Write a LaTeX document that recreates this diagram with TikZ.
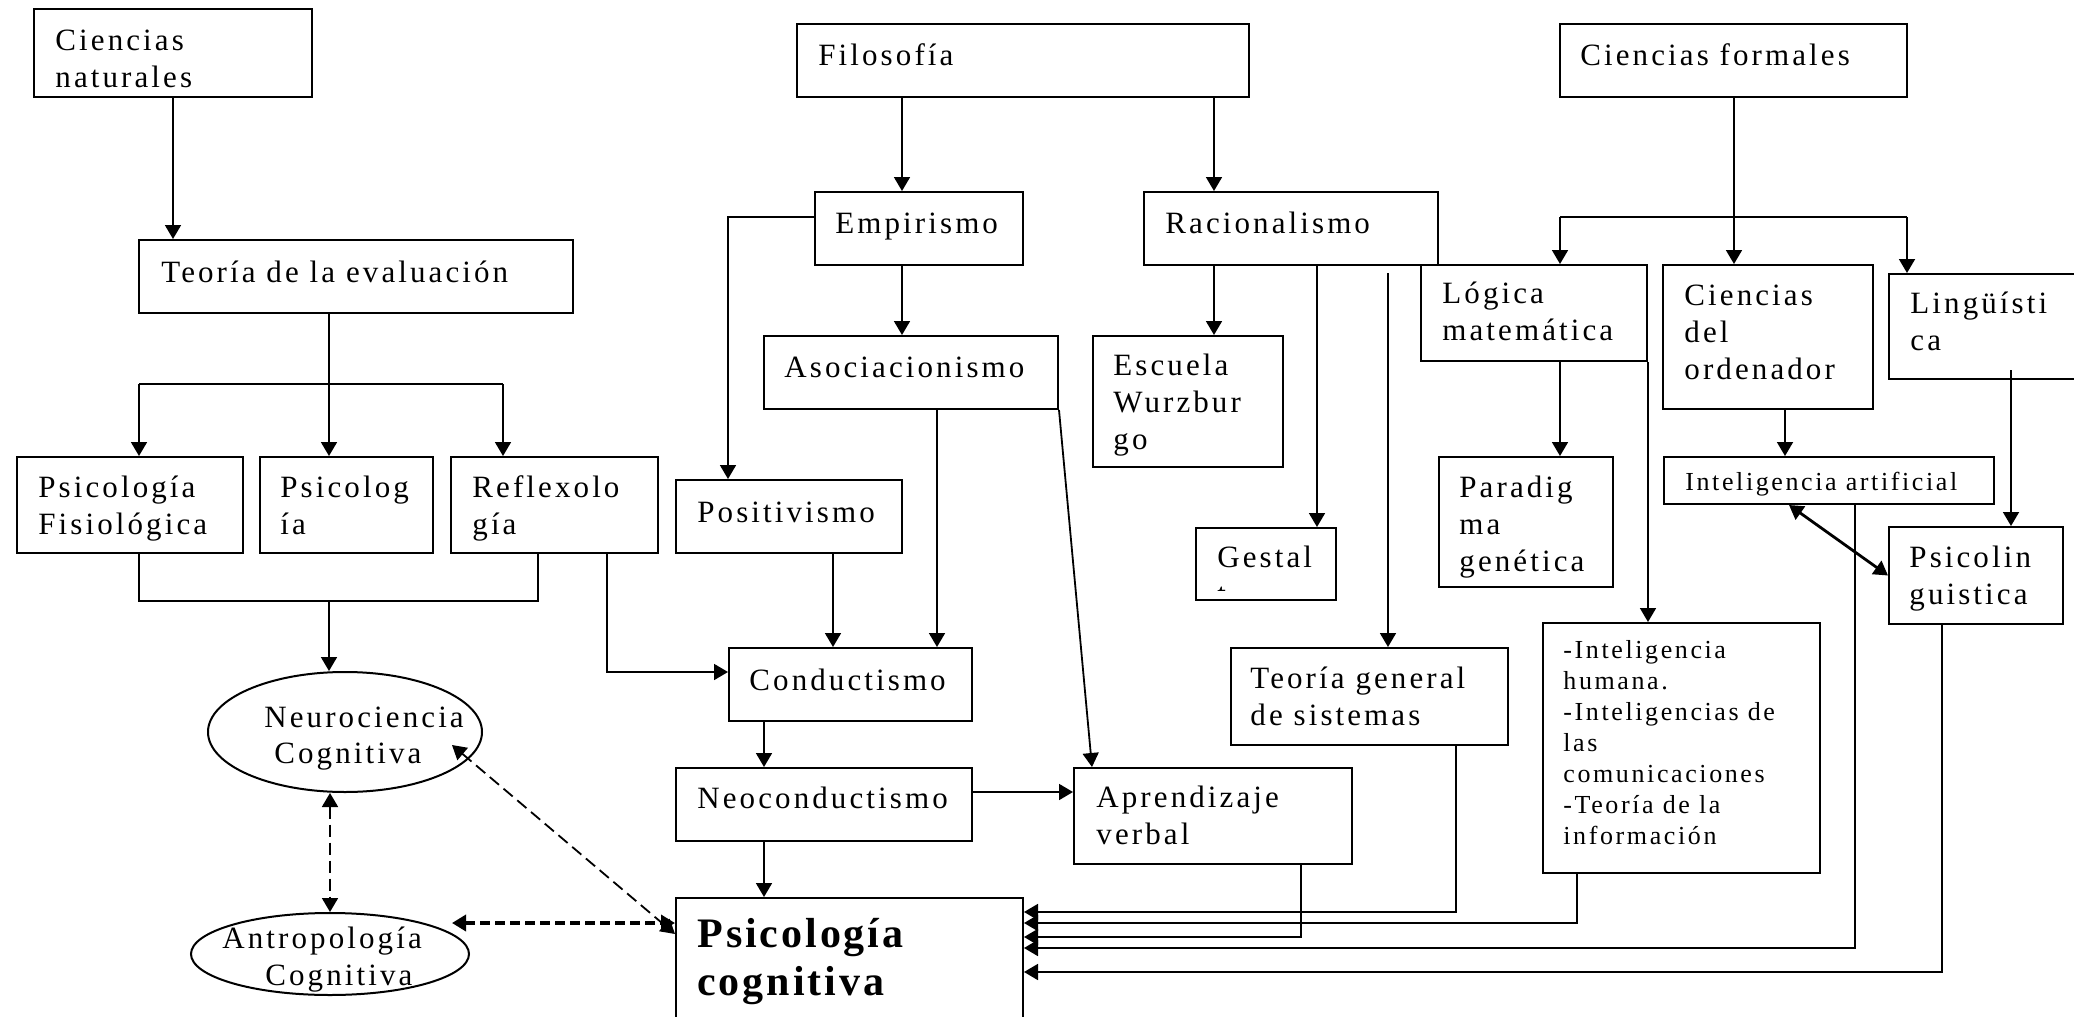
\documentclass[tikz,border=0pt]{standalone}
\usepackage{fontspec}
\setmainfont{Liberation Serif}[LetterSpace=10]
\newfontfamily\bigbold{Liberation Serif}[LetterSpace=7]
\usetikzlibrary{arrows.meta,shapes.geometric,fit}
\newcommand\ml[1]{\begin{tabular}[t]{@{}l@{}}#1\end{tabular}}
\begin{document}
\begin{tikzpicture}[x=0.5pt,y=-0.5pt,
  box/.style={draw, line width=1pt, inner sep=0pt, rectangle},
  oval/.style={draw, line width=1pt, inner sep=0pt, ellipse},
  txt/.style={anchor=base west, inner sep=0pt, font=\fontsize{15.5pt}{18.5pt}\selectfont},
  stxt/.style={anchor=base west, inner sep=0pt, font=\fontsize{13pt}{15.5pt}\selectfont},
  btxt/.style={anchor=base west, inner sep=0pt, font=\bigbold\bfseries\fontsize{21pt}{24pt}\selectfont},
  conn/.style={line width=0.9pt},
  tip/.tip={Triangle[length=7pt,width=8pt]},
  arr/.style={conn, -tip},
  dblarr/.style={line width=1.4pt, tip-tip},
  dashdbl/.style={line width=0.9pt, dash pattern=on 6pt off 3pt, tip-tip},
  thickdash/.style={line width=2pt, dash pattern=on 5pt off 2.5pt, tip-tip},
]
\fill[white] (0,0) rectangle (2074,1017);
\useasboundingbox (0,0) rectangle (2074,1017);
\clip (0,0) rectangle (2074,1017);

% ---------- boxes ----------
\node[box, fit={(34,9) (312,97)}] (cn) {};
\node[txt] (cnt) at (55,50) {\ml{Ciencias\\naturales}};
\node[box, fit={(139,240) (573,313)}] (te) {};
\node[txt] (tet) at (161,282) {Teoría de la evaluación};
\node[box, fit={(797,24) (1249,97)}] (fi) {};
\node[txt] (fit) at (818,65) {Filosofía};
\node[box, fit={(1560,24) (1907,97)}] (cf) {};
\node[txt] (cft) at (1580,65) {Ciencias formales};
\node[box, fit={(815,192) (1023,265)}] (em) {};
\node[txt] (emt) at (835,233) {Empirismo};
\node[box, fit={(1144,192) (1438,265)}] (ra) {};
\node[txt] (rat) at (1165,233) {Racionalismo};
\node[box, fit={(1421,265) (1647,361)}] (lm) {};
\node[txt] (lmt) at (1442,303) {\ml{Lógica\\matemática}};
\node[box, fit={(1663,265) (1873,409)}] (co) {};
\node[txt] (cot) at (1684,305) {\ml{Ciencias\\del\\ordenador}};
\node[box, fit={(1889,274) (2100,379)}] (li) {};
\node[txt] (lit) at (1910,313) {\ml{Lingüísti\\ca}};
\node[box, fit={(764,336) (1058,409)}] (as) {};
\node[txt] (ast) at (784,377) {Asociacionismo};
\node[box, fit={(1093,336) (1283,467)}] (ew) {};
\node[txt] (ewt) at (1113,375) {\ml{Escuela\\Wurzbur\\go}};
\node[box, fit={(17,457) (243,553)}] (pf) {};
\node[txt] (pft) at (38,497) {\ml{Psicología\\Fisiológica}};
\node[box, fit={(260,457) (433,553)}] (ps) {};
\node[txt] (pst) at (280,497) {\ml{Psicolog\\ía}};
\node[box, fit={(451,457) (658,553)}] (rf) {};
\node[txt] (rft) at (472,497) {\ml{Reflexolo\\gía}};
\node[box, fit={(676,480) (902,553)}] (po) {};
\node[txt] (pot) at (697,522) {Positivismo};
\node[box, fit={(1439,457) (1613,587)}] (pg) {};
\node[txt] (pgt) at (1459,497) {\ml{Paradig\\ma\\genética}};
\node[box, fit={(1664,457) (1994,504)}] (ia) {};
\node[stxt] (iat) at (1685,490) {Inteligencia artificial};
\node[box, fit={(1196,528) (1336,600)}] (ge) {};
\node[txt] (get) at (1217,567) {Gestal};
\begin{scope}
  \clip (1196,528) rectangle (1336,590);
  \node[txt] (get2) at (1217,604) {t};
\end{scope}
\node[box, fit={(1889,527) (2063,624)}] (pl) {};
\node[txt] (plt) at (1909,567) {\ml{Psicolin\\guistica}};
\node[box, fit={(729,648) (972,721)}] (cd) {};
\node[txt] (cdt) at (749,690) {Conductismo};
\node[box, fit={(1231,648) (1508,745)}] (tg) {};
\node[txt] (tgt) at (1250,688) {\ml{Teoría general\\de sistemas}};
\node[box, fit={(1543,623) (1820,873)}] (ih) {};
\node[stxt] (iht) at (1563,658) {\ml{-Inteligencia\\humana.\\-Inteligencias de\\las\\comunicaciones\\-Teoría de la\\información}};
\node[box, fit={(676,768) (972,841)}] (nc) {};
\node[txt] (nct) at (697,808) {Neoconductismo};
\node[box, fit={(1074,768) (1352,864)}] (av) {};
\node[txt] (avt) at (1096,807) {\ml{Aprendizaje\\verbal}};
\node[box, fit={(676,898) (1023,1040)}] (pc) {};
\node[btxt] (pct) at (697,947) {\ml{Psicología\\cognitiva}};

% ellipses
\node[oval, minimum width=137pt, minimum height=60pt] (ne) at (345,732) {};
\node[txt] (net1) at (264,727) {Neurociencia};
\node[txt] (net2) at (274,763) {Cognitiva};
\node[oval, minimum width=139pt, minimum height=41pt] (an) at (330,954) {};
\node[txt] (ant1) at (222,948) {Antropología};
\node[txt] (ant2) at (265,985) {Cognitiva};

% ---------- connectors ----------
\draw[arr] (cn.south) -- (cn.south |- te.north);
\coordinate (s1) at (329,384);
\coordinate (s1l) at (139,384);
\coordinate (s1r) at (503,384);
\draw[conn] (s1 |- te.south) -- (s1);
\draw[conn] (s1l) -- (s1r);
\draw[arr] (s1l) -- (s1l |- pf.north);
\draw[arr] (s1) -- (s1 |- ps.north);
\draw[arr] (s1r) -- (s1r |- rf.north);
\coordinate (m1l) at (139,601);
\coordinate (m1r) at (538,601);
\coordinate (m1) at (329,601);
\draw[conn] (m1l |- pf.south) -- (m1l) -- (m1r) -- (m1r |- rf.south);
\draw[arr] (m1) -- (m1 |- ne.north);
\coordinate (r1) at (607,672);
\draw[arr] (r1 |- rf.south) -- (r1) -- (r1 -| cd.west);

\coordinate (f1) at (902,0);
\coordinate (f2) at (1214,0);
\draw[arr] (f1 |- fi.south) -- (f1 |- em.north);
\draw[arr] (f2 |- fi.south) -- (f2 |- ra.north);
\draw[arr] (f1 |- em.south) -- (f1 |- as.north);
\coordinate (e1) at (728,217);
\draw[arr] (e1 -| em.west) -- (e1) -- (e1 |- po.north);
\coordinate (p1) at (833,0);
\coordinate (a1) at (937,0);
\draw[arr] (p1 |- po.south) -- (p1 |- cd.north);
\draw[arr] (a1 |- as.south) -- (a1 |- cd.north);
\coordinate (a2) at (1092,0);
\draw[arr] (as.south east) -- (a2 |- av.north);
\coordinate (c1) at (764,0);
\draw[arr] (c1 |- cd.south) -- (c1 |- nc.north);
\draw[arr] (c1 |- nc.south) -- (c1 |- pc.north);
\coordinate (n1) at (0,792);
\draw[arr] (n1 -| nc.east) -- (n1 -| av.west);

\draw[arr] (f2 |- ra.south) -- (f2 |- ew.north);
\coordinate (r2) at (1317,0);
\draw[arr] (r2 |- ra.south) -- (r2 |- ge.north);
\coordinate (r3) at (1388,273);
\draw[arr] (r3) -- (r3 |- tg.north);

\coordinate (k1) at (1734,217);
\coordinate (k1l) at (1560,217);
\coordinate (k1r) at (1907,217);
\draw[conn] (k1 |- cf.south) -- (k1);
\draw[conn] (k1l) -- (k1r);
\draw[arr] (k1l) -- (k1l |- lm.north);
\draw[arr] (k1) -- (k1 |- co.north);
\draw[arr] (k1r) -- (k1r |- li.north);
\draw[arr] (k1l |- lm.south) -- (k1l |- pg.north);
\draw[arr] (lm.south east) -- (lm.south east |- ih.north);
\coordinate (o1) at (1785,0);
\draw[arr] (o1 |- co.south) -- (o1 |- ia.north);
\coordinate (l1) at (2011,370);
\draw[arr] (l1) -- (l1 |- pl.north);
\coordinate (i1) at (1789,0);
\draw[dblarr] (i1 |- ia.south) -- (pl.west);

% returns into Psicologia cognitiva
\coordinate (t1) at (1456,912);
\coordinate (t2) at (1577,923);
\coordinate (t3) at (1301,937);
\coordinate (t4) at (1855,948);
\coordinate (t5) at (1942,972);
\draw[arr] (t1 |- tg.south) -- (t1) -- (t1 -| pc.east);
\draw[arr] (t2 |- ih.south) -- (t2) -- (t2 -| pc.east);
\draw[arr] (t3 |- av.south) -- (t3) -- (t3 -| pc.east);
\draw[arr] (t4 |- ia.south) -- (t4) -- (t4 -| pc.east);
\draw[arr] (t5 |- pl.south) -- (t5) -- (t5 -| pc.east);

% dashed relations
\draw[dashdbl] (an.north |- ne.south) -- (an.north);
\coordinate (d1) at (452,745);
\coordinate (d2) at (0,934);
\draw[dashdbl] (d1) -- (d2 -| pc.west);
\coordinate (d3) at (452,923);
\draw[thickdash] (d3) -- (d3 -| pc.west);
\end{tikzpicture}
\end{document}
